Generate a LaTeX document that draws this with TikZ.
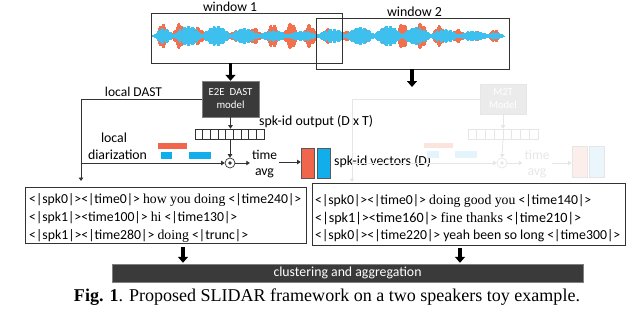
\documentclass[tikz,border=0pt]{standalone}
\usepackage{fontspec}
\usepackage{graphicx}
\setmainfont{Carlito}
\newfontfamily\serifw{Liberation Serif}
\usetikzlibrary{arrows.meta}
\definecolor{wred}{HTML}{F3704F}
\definecolor{wblue}{HTML}{3DC0EE}
\definecolor{vred}{HTML}{F0654C}
\definecolor{vblue}{HTML}{12ADEB}
\definecolor{darkbox}{HTML}{3A3A3A}
\definecolor{lineg}{HTML}{333333}
\definecolor{faint}{HTML}{E6E6E6}
\definecolor{faintbox}{HTML}{EBEBEB}
\definecolor{fred}{HTML}{FCE4DE}
\definecolor{fblue}{HTML}{E3F4FC}
\definecolor{fvred}{HTML}{FCEEEB}
\definecolor{fvblue}{HTML}{EAF6FC}
\newcommand\wrd[1]{{\serifw #1}}
\newcommand\fitw[2]{\resizebox{#1pt}{!}{#2}}
\begin{document}
\begin{tikzpicture}[x=1pt,y=-1pt,
  lbl/.style={inner sep=0pt, font=\fontsize{14}{16}\selectfont},
  winbox/.style={draw=lineg, line width=0.8pt, inner sep=0pt},
  modelbox/.style={draw=gray, fill=darkbox, text=white, align=center, inner sep=0pt,
     font=\fontsize{10.5}{13}\selectfont},
  fmodelbox/.style={draw=faint, fill=faintbox, text=white, align=center, inner sep=0pt,
     font=\fontsize{10.5}{13}\selectfont},
  cell/.style={draw=lineg, line width=0.6pt, minimum width=7.67, minimum height=10, inner sep=0pt},
  fcell/.style={draw=faint, line width=0.6pt, minimum width=8.75, minimum height=10, inner sep=0pt},
  odot/.style={circle, draw=lineg, line width=0.7pt, minimum size=10, inner sep=0pt},
  fodot/.style={circle, draw=faint, line width=0.7pt, minimum size=10, inner sep=0pt},
  sarrow/.style={draw=lineg, line width=0.8pt, -{Triangle[width=4.5pt,length=3.5pt]}},
  farrow/.style={draw=faint, line width=0.8pt, -{Triangle[width=4.5pt,length=3.5pt]}},
  bigarrow/.style={line width=3.6pt, -{Triangle[width=10pt,length=6pt]}},
  vec/.style={draw=gray!70!black, line width=0.7pt, minimum width=13, minimum height=30, inner sep=0pt},
  fvec/.style={draw=faint, line width=0.7pt, minimum width=15, minimum height=31, inner sep=0pt},
  tbox/.style={draw=lineg, line width=0.8pt, inner sep=0pt},
  tline/.style={anchor=base west, inner sep=0pt, font=\fontsize{14}{18}\selectfont},
  darkbar/.style={draw=gray, fill=darkbox, text=white, inner sep=0pt, font=\fontsize{14}{16}\selectfont}
]
\useasboundingbox (0,0) rectangle (640,332);

% waveform
\foreach \j in {1,...,352}{
  \pgfmathsetmacro\tap{min(1,\j/10,(353-\j)/10)}
  \pgfmathsetmacro\ar{\tap*(1.5+12.5*(abs(sin(\j*9.7)))^2*(0.55+0.45*abs(sin(\j*37.3)))*(0.65+0.35*sin(\j*2.9+50)))}
  \pgfmathsetmacro\ab{\tap*(1.5+9*abs(sin(\j*6.3+40))*(0.55+0.45*abs(sin(\j*41.9)))*(0.7+0.3*sin(\j*1.9)))}
  \pgfmathsetmacro\xx{\j+152}
  \draw[wred, line width=1.05pt] (\xx,36-\ar) -- (\xx,36+\ar);
  \draw[wblue, line width=1.05pt] (\xx,36-\ab) -- (\xx,36+\ab);
}

% windows
\node[winbox, minimum width=191, minimum height=50] (win1) at (246.5,38) {};
\node[winbox, minimum width=193, minimum height=51] (win2) at (412.5,43.5) {};
\node[lbl] (w1l) at (230,6.5) {\fitw{54}{window 1}};
\node[lbl] (w2l) at (414.5,12) {\fitw{55}{window 2}};

% left pipeline
\node[modelbox, minimum width=57, minimum height=36] (dast) at (230.5,99) {\fitw{44}{E2E~~DAST}\\\fitw{28}{model}};
\draw[bigarrow] (win1.south -| dast) -- (dast.north);
\coordinate (w2a) at (412,87);
\draw[bigarrow] (win2.south -| w2a) -- (w2a);
\node[lbl] (ldast) at (133.5,92) {\fitw{57}{local DAST}};
\coordinate (lt) at (81,181);
\draw[sarrow] (dast.west) -| (lt);
\foreach \k in {0,...,8}{
  \node[cell] (g\k) at ({195+3.835+\k*7.67},134) {};
}
\draw[sarrow] (dast.south) -- (dast.south |- g4.north);
\node[lbl, anchor=west] (spkout) at (259,122) {\fitw{114}{spk-id output (D x T)}};
\node[odot] (od) at (230,163) {};
\fill[lineg] (od) circle (1.9);
\draw[sarrow] (g4.south -| od) -- (od.north);
\node[lbl] (ldiar1) at (114,138) {\fitw{26}{local}};
\node[lbl] (ldiar2) at (117.5,155) {\fitw{59}{diarization}};
\fill[vred] (158,143) rectangle (187,149);
\fill[vblue] (161,152) rectangle (172,159);
\fill[vblue] (189,152) rectangle (211,159);
\draw[sarrow] (lt |- od) -- (od.west);
\node[lbl, align=center, inner sep=2pt] (ta) at (264.5,164) {\fitw{25}{time}\\[0pt]\fitw{19}{avg}};
\draw[sarrow] (od.east) -- (ta.west |- od);
\node[vec, fill=vred] (vr) at (307.5,163) {};
\node[vec, fill=vblue] (vb) at (323.5,163) {};
\draw[sarrow] (ta.east |- 0,162) -- (vr.west |- 0,162);
\node[lbl, anchor=west] (vlab) at (334,162) {\fitw{97}{spk-id vectors (D)}};

% right (faded) pipeline
\node[fmodelbox, minimum width=46, minimum height=30] (m2t) at (503,99) {M2T\\Model};
\coordinate (rt) at (352,182);
\draw[farrow] (m2t.west) -| (rt);
\foreach \k in {0,...,7}{
  \node[fcell] (h\k) at ({468+4.375+\k*8.75},134) {};
}
\draw[farrow] (m2t.south) -- (m2t.south |- h3.north);
\node[fodot] (od2) at (502,163) {};
\fill[faint] (od2) circle (1.9);
\draw[farrow] (m2t.south |- h3.south) -- (od2.north);
\fill[fred] (424,143) rectangle (453,148);
\fill[fblue] (427,151) rectangle (439,158);
\fill[fblue] (455,151) rectangle (477,158);
\draw[farrow] (rt |- od2) -- (od2.west);
\node[lbl, align=center, inner sep=2pt, text=faint] (ta2) at (537,164) {\fitw{25}{time}\\[0pt]\fitw{19}{avg}};
\draw[farrow] (od2.east) -- (ta2.west |- od2);
\node[fvec, fill=fvred] (vr2) at (579.5,161.5) {};
\node[fvec, fill=fvblue] (vb2) at (596.5,161.5) {};
\draw[farrow] (ta2.east |- od2) -- (vr2.west |- od2);

% text boxes
\node[tbox, minimum width=281, minimum height=56] (L) at (165.5,215) {};
\node[tline] (l1) at (29,203) {\fitw{272}{<|spk0|><|time0|> \wrd{how you doing} <|time240|>}};
\node[tline] (l2) at (29,221) {\fitw{208}{<|spk1|><time100|> \wrd{hi} <|time130|>}};
\node[tline] (l3) at (29,239) {\fitw{219}{<|spk1|><|time280|> \wrd{doing} <|trunc|>}};
\node[tbox, minimum width=313, minimum height=62] (R) at (468.5,214) {};
\node[tline] (r1) at (315,204) {\fitw{276}{<|spk0|><|time0|> \wrd{doing good you} <|time140|>}};
\node[tline] (r2) at (315,222) {\fitw{266}{<|spk1|><time160|> \wrd{fine thanks} <|time210|>}};
\node[tline] (r3) at (315,239) {\fitw{305}{<|spk0|><|time220|> yeah been so long <|time300|>}};

% clustering
\node[darkbar, minimum width=471, minimum height=18] (clu) at (347.5,273) {\fitw{148}{clustering and aggregation}};
\draw[bigarrow] ([shift={(17.5,4)}]L.south) -- ([shift={(17.5,-1)}]L.south |- clu.north);
\draw[bigarrow] ([shift={(-8.5,3)}]R.south) -- ([shift={(-8.5,-1)}]R.south |- clu.north);

% caption
\node[inner sep=0pt, font=\serifw\fontsize{18.5}{22}\selectfont] (cap) at (327,297)
 {\fitw{506}{\textbf{Fig. 1}. Proposed SLIDAR framework on a two speakers toy example.}};
\end{tikzpicture}
\end{document}
